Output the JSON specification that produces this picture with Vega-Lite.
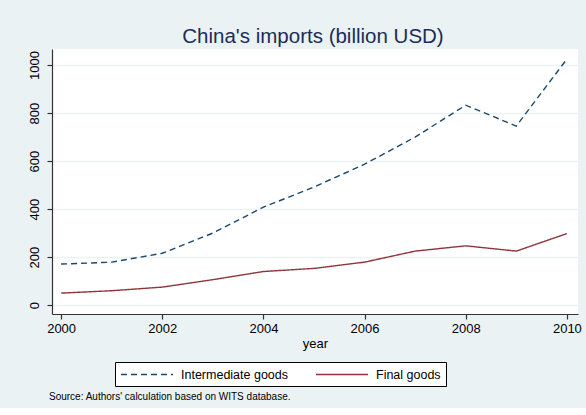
{
  "$schema": "https://vega.github.io/schema/vega-lite/v6.json",
  "background": "#EAF2F3",
  "padding": {"left": 28, "top": 26, "right": 8, "bottom": 6},
  "title": {
    "text": "Source: Authors' calculation based on WITS database.",
    "orient": "bottom",
    "anchor": "start",
    "frame": "group",
    "fontSize": 10,
    "fontWeight": "normal",
    "font": "Liberation Sans",
    "color": "#000000",
    "offset": 5,
    "dx": -3
  },
  "data": {
    "values": [
      {"year": 2000, "series": "Intermediate goods", "value": 171},
      {"year": 2001, "series": "Intermediate goods", "value": 179},
      {"year": 2002, "series": "Intermediate goods", "value": 216},
      {"year": 2003, "series": "Intermediate goods", "value": 300},
      {"year": 2004, "series": "Intermediate goods", "value": 408},
      {"year": 2005, "series": "Intermediate goods", "value": 492},
      {"year": 2006, "series": "Intermediate goods", "value": 587},
      {"year": 2007, "series": "Intermediate goods", "value": 700},
      {"year": 2008, "series": "Intermediate goods", "value": 833},
      {"year": 2009, "series": "Intermediate goods", "value": 746},
      {"year": 2010, "series": "Intermediate goods", "value": 1025},
      {"year": 2000, "series": "Final goods", "value": 50},
      {"year": 2001, "series": "Final goods", "value": 60},
      {"year": 2002, "series": "Final goods", "value": 75},
      {"year": 2003, "series": "Final goods", "value": 106},
      {"year": 2004, "series": "Final goods", "value": 140},
      {"year": 2005, "series": "Final goods", "value": 153},
      {"year": 2006, "series": "Final goods", "value": 179},
      {"year": 2007, "series": "Final goods", "value": 225},
      {"year": 2008, "series": "Final goods", "value": 247},
      {"year": 2009, "series": "Final goods", "value": 225},
      {"year": 2010, "series": "Final goods", "value": 298}
    ]
  },
  "vconcat": [
    {
      "width": 526,
      "height": 265,
      "title": {
        "text": "China's imports (billion USD)",
        "anchor": "middle",
        "frame": "group",
        "dx": -2,
        "fontSize": 20.5,
        "fontWeight": "normal",
        "font": "Liberation Sans",
        "color": "#1c2d58",
        "offset": 2
      },
      "mark": {"type": "line", "strokeWidth": 1.4},
      "encoding": {
        "x": {
          "field": "year",
          "type": "quantitative",
          "scale": {"domain": [1999.82, 2010.22], "nice": false, "zero": false},
          "axis": {
            "values": [2000, 2002, 2004, 2006, 2008, 2010],
            "format": "d",
            "grid": false,
            "title": "year",
            "titleFontWeight": "normal",
            "titleFontSize": 13,
            "titlePadding": 2,
            "labelPadding": 3
          }
        },
        "y": {
          "field": "value",
          "type": "quantitative",
          "scale": {"domain": [-37, 1067], "nice": false, "zero": false},
          "axis": {
            "values": [0, 200, 400, 600, 800, 1000],
            "format": "d",
            "title": null,
            "grid": true,
            "gridColor": "#EAF2F3",
            "gridWidth": 1.5,
            "labelAngle": 270,
            "labelAlign": "center",
            "labelBaseline": "bottom",
            "labelPadding": 6
          }
        },
        "color": {
          "field": "series",
          "type": "nominal",
          "scale": {"domain": ["Intermediate goods", "Final goods"], "range": ["#1a476f", "#90353b"]},
          "legend": {"title": null}
        },
        "strokeDash": {
          "field": "series",
          "type": "nominal",
          "scale": {"domain": ["Intermediate goods", "Final goods"], "range": [[6, 4], [1, 0]]},
          "legend": {"title": null}
        }
      }
    }
  ],
  "config": {
    "font": "Liberation Sans",
    "view": {"fill": "#ffffff", "stroke": null},
    "axis": {
      "domainColor": "#333333",
      "domainWidth": 1.2,
      "tickColor": "#333333",
      "tickSize": 5,
      "tickWidth": 1.2,
      "labelFontSize": 13,
      "labelColor": "#000000",
      "titleColor": "#000000",
      "labelFont": "Liberation Sans",
      "titleFont": "Liberation Sans"
    },
    "legend": {
      "orient": "none",
      "legendX": 63,
      "legendY": 313,
      "direction": "horizontal",
      "fillColor": "#ffffff",
      "strokeColor": "#000000",
      "padding": 5,
      "symbolType": "M-1,0H7",
      "symbolSize": 169,
      "symbolStrokeWidth": 1.4,
      "labelFontSize": 12.5,
      "labelColor": "#000000",
      "labelFont": "Liberation Sans",
      "labelOffset": 46,
      "columnPadding": 24
    }
  }
}
